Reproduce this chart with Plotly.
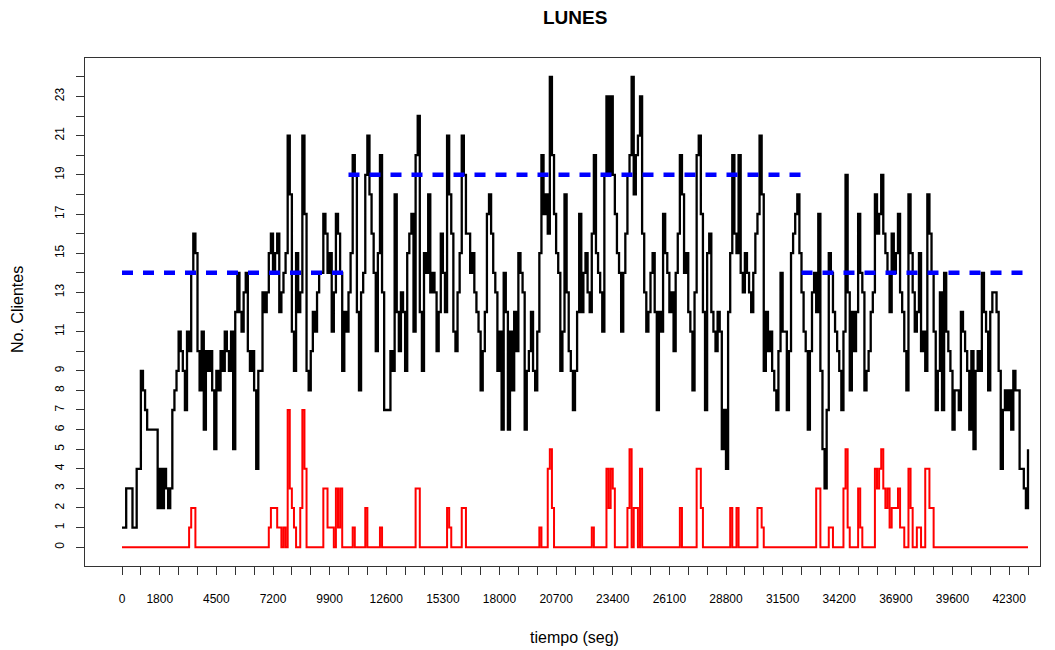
import plotly.graph_objects as go

# Simulation clock: one reading every 100 seconds over the 12-hour day
STEP_SEG = 100

# Customers in the system (black step line)
clientes = [
    1, 1, 3, 3, 3, 1, 1, 4, 4, 9, 8, 7, 6, 6, 6, 6, 6, 2, 4, 2,
    4, 3, 2, 3, 7, 8, 9, 11, 10, 9, 7, 11, 10, 14, 16, 15, 10, 8, 11, 6,
    10, 9, 10, 8, 5, 9, 8, 10, 9, 11, 10, 9, 11, 5, 12, 14, 12, 11, 13, 14,
    10, 9, 10, 8, 4, 9, 9, 13, 12, 13, 15, 16, 14, 15, 16, 12, 13, 14, 15, 21,
    18,
    11, 9, 15, 12, 13, 21, 17, 9, 8, 10, 12, 11, 13, 14, 14, 17, 16, 14, 15, 11,
    13, 17, 16, 14, 9, 12, 11, 13, 15, 20, 19, 12, 8, 13, 14, 19, 21, 18, 16, 14,
    10, 15, 20, 13, 7,
    7, 7, 10, 9, 18, 12, 10, 13, 12, 9, 15, 16, 17, 11, 20, 22, 12, 9, 15, 14,
    18, 13, 14, 13, 10, 12, 16, 14, 12, 21, 18, 16, 11, 10, 13, 15, 21, 19, 16, 16,
    14,
    15, 13, 12, 11, 8, 10, 12, 17, 18, 16, 14, 13, 9, 11, 6, 14, 12, 6, 11, 8,
    12, 10, 15, 14, 13, 6, 9, 10, 12, 9, 8, 11, 15, 20, 17, 18, 16, 24, 20, 17,
    15, 14, 9,
    11, 18, 13, 10, 9, 7, 9, 12, 17, 12, 14, 15, 13, 12, 16, 20, 15, 14, 13, 11,
    19, 23, 19, 23, 19, 17, 15, 14, 11, 14, 16, 19, 20, 24, 18, 20, 21, 23, 16, 13,
    11, 12, 14,
    15, 12, 7, 12, 11, 17, 15, 14, 12, 13, 10, 14, 16, 20, 18, 14, 15, 12, 11, 8,
    13, 20, 21, 17, 12, 7, 15, 16, 12, 11, 10, 12, 11, 5, 7, 4, 12, 15, 20, 16,
    15, 20, 14,
    13, 15, 14, 13, 12, 14, 16, 17, 21, 18, 9, 12, 10, 11, 9, 8, 7, 10, 14, 11,
    11, 7, 10, 15, 16, 17, 18, 15, 13, 11, 10, 6, 10, 13, 14, 12, 17, 9, 5, 3,
    7, 15, 14,
    12, 11, 10, 9, 7, 11, 19, 13, 8, 12, 10, 12, 17, 14, 13, 8, 9, 10, 12, 13,
    18, 16, 17, 19, 16, 15, 14, 12, 16, 14, 15, 17, 13, 12, 10, 8, 18, 15, 13, 11,
    12, 15, 10,
    11, 9, 18, 16, 14, 11, 7, 9, 13, 7, 14, 11, 10, 9, 6, 8, 8, 7, 12, 11,
    10, 9, 6, 10, 5, 9, 10, 9, 14, 12, 11, 8, 12, 13, 13, 12, 9, 4, 7, 8,
    7, 8, 6, 9, 8, 8, 4, 4, 3, 2, 5,
]

# Customers waiting in line (red step line)
en_cola = [
    0, 0, 0, 0, 0, 0, 0, 0, 0, 0,
    0, 0, 0, 0, 0, 0, 0, 0, 0, 0,
    0, 0, 0, 0, 0, 0, 0, 0, 0, 0,
    0, 0, 1, 2, 2, 0, 0, 0, 0, 0,
    0, 0, 0, 0, 0, 0, 0, 0, 0, 0,
    0, 0, 0, 0, 0, 0, 0, 0, 0, 0,
    0, 0, 0, 0, 0, 0, 0, 0, 0, 0,
    1, 2, 2, 2, 1, 1, 0, 1, 0, 7,
    3, 2, 1, 0, 0, 2, 7, 4, 0, 0,
    0, 0, 0, 0, 0, 0, 3, 3, 1, 1,
    1, 0, 3, 1, 3, 0, 0, 0, 0, 0,
    1, 0, 0, 0, 0, 0, 2, 0, 0, 0,
    0, 0, 0, 1, 0, 0, 0, 0, 0, 0,
    0, 0, 0, 0, 0, 0, 0, 0, 0, 0,
    3, 3, 0, 0, 0, 0, 0, 0, 0, 0,
    0, 0, 0, 0, 0, 2, 1, 0, 0, 0,
    0, 0, 2, 2, 0, 0, 0, 0, 0, 0,
    0, 0, 0, 0, 0, 0, 0, 0, 0, 0,
    0, 0, 0, 0, 0, 0, 0, 0, 0, 0,
    0, 0, 0, 0, 0, 0, 0, 0, 0, 1,
    0, 0, 0, 4, 5, 2, 0, 0, 0, 0,
    0, 0, 0, 0, 0, 0, 0, 0, 0, 0,
    0, 0, 0, 0, 1, 0, 0, 0, 0, 0,
    0, 4, 2, 4, 3, 0, 0, 0, 0, 0,
    0, 2, 5, 0, 2, 2, 0, 4, 0, 0,
    0, 0, 0, 0, 0, 0, 0, 0, 0, 0,
    0, 0, 0, 0, 0, 0, 2, 0, 0, 0,
    0, 0, 0, 0, 4, 4, 2, 0, 0, 0,
    0, 0, 0, 0, 0, 0, 0, 0, 0, 0,
    2, 0, 0, 2, 0, 0, 0, 0, 0, 0,
    0, 0, 0, 2, 2, 1, 0, 0, 0, 0,
    0, 0, 0, 0, 0, 0, 0, 0, 0, 0,
    0, 0, 0, 0, 0, 0, 0, 0, 0, 0,
    0, 3, 3, 0, 0, 0, 0, 1, 1, 0,
    0, 0, 0, 0, 3, 5, 1, 0, 0, 0,
    0, 3, 1, 0, 0, 0, 0, 0, 0, 4,
    3, 4, 5, 3, 2, 3, 1, 2, 2, 2,
    3, 1, 1, 0, 0, 4, 2, 0, 0, 1,
    1, 0, 0, 4, 4, 2, 2, 0, 0, 0,
    0, 0, 0, 0, 0, 0, 0, 0, 0, 0,
    0, 0, 0, 0, 0, 0, 0, 0, 0, 0,
    0, 0, 0, 0, 0, 0, 0, 0, 0, 0,
    0, 0, 0, 0, 0, 0, 0, 0, 0, 0,
    0, 0, 0,
]

tiempo = [i * STEP_SEG for i in range(len(clientes))]

# Arrival-rate level per time block (blue dashed reference)
tramos_inicio = [0, 10800, 32400]
tramos_fin = [10800, 32400, 43200]
tramos_nivel = [14, 19, 14]

# Axis ticks
x_ticks = list(range(0, 43201, 900))
x_etiquetas = [0, 1800, 4500, 7200, 9900, 12600, 15300, 18000, 20700,
               23400, 26100, 28800, 31500, 34200, 36900, 39600, 42300]
y_ticks = list(range(0, 25))
y_etiquetas = [0, 1, 2, 3, 4, 5, 6, 7, 8, 9, 11, 13, 15, 17, 19, 21, 23]

fig = go.Figure()

fig.add_trace(go.Scatter(
    x=tiempo, y=clientes, mode="lines",
    line=dict(color="black", width=2.3, shape="hv"),
    showlegend=False, hoverinfo="skip",
))
fig.add_trace(go.Scatter(
    x=tiempo, y=en_cola, mode="lines",
    line=dict(color="#ff0000", width=2, shape="hv"),
    showlegend=False, hoverinfo="skip",
))

bx, by = [], []
for a, b, v in zip(tramos_inicio, tramos_fin, tramos_nivel):
    bx += [a, b, None]
    by += [v, v, None]
fig.add_trace(go.Scatter(
    x=bx, y=by, mode="lines",
    line=dict(color="#0000ff", width=4.5, dash="11px,10px"),
    showlegend=False, hoverinfo="skip",
))

font_fam = "Liberation Sans, Arial, sans-serif"

fig.update_layout(
    width=1055, height=650,
    margin=dict(l=85, r=15, t=58, b=84),
    paper_bgcolor="white", plot_bgcolor="white",
    font=dict(family=font_fam, color="black"),
    xaxis=dict(
        range=[-1764, 43772], showgrid=False, zeroline=False,
        showline=True, mirror=True, linecolor="#333333", linewidth=1,
        tickmode="array", tickvals=x_ticks,
        ticktext=[str(t) if t in x_etiquetas else "" for t in x_ticks],
        ticks="outside", ticklen=8, tickcolor="#333333", tickwidth=1,
        ticklabelstandoff=14,
        tickfont=dict(size=12, family=font_fam, color="black"),
    ),
    yaxis=dict(
        range=[-0.96, 24.96], showgrid=False, zeroline=False,
        showline=True, mirror=True, linecolor="#333333", linewidth=1,
        tickmode="array", tickvals=y_ticks,
        ticktext=[str(t) if t in y_etiquetas else "" for t in y_ticks],
        ticks="outside", ticklen=8, tickcolor="#333333", tickwidth=1,
        tickangle=-90, ticklabelstandoff=7,
        tickfont=dict(size=12, family=font_fam, color="black"),
    ),
    annotations=[
        dict(text="<b>LUNES</b>", xref="paper", yref="paper",
             x=(575 - 85) / 955, y=(566 - 18) / 508,
             xanchor="center", yanchor="middle", showarrow=False,
             font=dict(size=19, family=font_fam, color="black")),
        dict(text="tiempo (seg)", xref="paper", yref="paper",
             x=(574 - 85) / 955, y=(566 - 637) / 508,
             xanchor="center", yanchor="middle", showarrow=False,
             font=dict(size=16, family=font_fam, color="black")),
        dict(text="No. Clientes", xref="paper", yref="paper",
             x=(17 - 85) / 955, y=(566 - 310) / 508, textangle=-90,
             xanchor="center", yanchor="middle", showarrow=False,
             font=dict(size=16, family=font_fam, color="black")),
    ],
)

fig.write_html("out.html")
